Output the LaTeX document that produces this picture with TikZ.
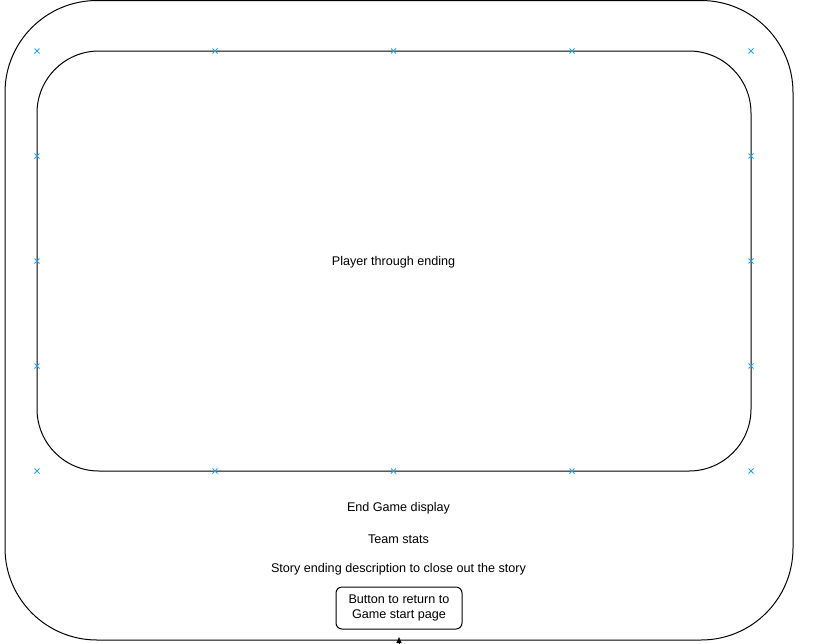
\documentclass[tikz,border=0pt]{standalone}
\usepackage{fontspec}
\setmainfont{Liberation Sans}
\usetikzlibrary{arrows.meta}
\definecolor{pointblue}{HTML}{29A3E6}
\tikzset{
  panel/.style={draw=black, line width=1pt, rectangle, inner sep=0pt},
  label/.style={font=\fontsize{12.6}{15}\selectfont, inner sep=0pt, align=center},
  btn/.style={draw=black, line width=1pt, rounded corners=6pt, minimum width=126pt,
    minimum height=42pt, font=\fontsize{12.6}{15}\selectfont, align=center, inner sep=0pt},
  pt/.style={draw=pointblue, line width=0.9pt}
}
\begin{document}
\begin{tikzpicture}[x=1pt, y=-1pt]
  \useasboundingbox (0,0) rectangle (824,643);
  % outer frame of the end screen
  \node[panel, rounded corners=92pt, minimum width=788pt, minimum height=639.5pt]
    (outer) at (399,320.25) {};
  % inner play area
  \node[panel, rounded corners=62pt, minimum width=714pt, minimum height=420pt,
    label] (screen) at (394,261) {};
  \node[label] (ending) at (393.5,262.5) {Player through ending};
  % connection points around the inner area
  \foreach \x in {37,215,393.5,572,751} {
    \foreach \y in {51,471} {
      \draw[pt] (\x-2.5,\y-2.5) -- (\x+2.5,\y+2.5) (\x-2.5,\y+2.5) -- (\x+2.5,\y-2.5);
    }
  }
  \foreach \x in {37,751} {
    \foreach \y in {156,261,366} {
      \draw[pt] (\x-2.5,\y-2.5) -- (\x+2.5,\y+2.5) (\x-2.5,\y+2.5) -- (\x+2.5,\y-2.5);
    }
  }
  % captions below the play area
  \node[label] (title) at (398.5,508.5) {End Game display};
  \node[label] (stats) at (398.5,539.5) {Team stats};
  \node[label] (story) at (398.5,569.5) {Story ending description to close out the story};
  \node[btn] (back) at (399,608) {Button to return to\\Game start page};
  % incoming link into the frame from below
  \coordinate (entry) at (399,680);
  \draw[-{Triangle[length=6pt,width=5pt]}, line width=1pt] (entry) -- (399,637);
\end{tikzpicture}
\end{document}
